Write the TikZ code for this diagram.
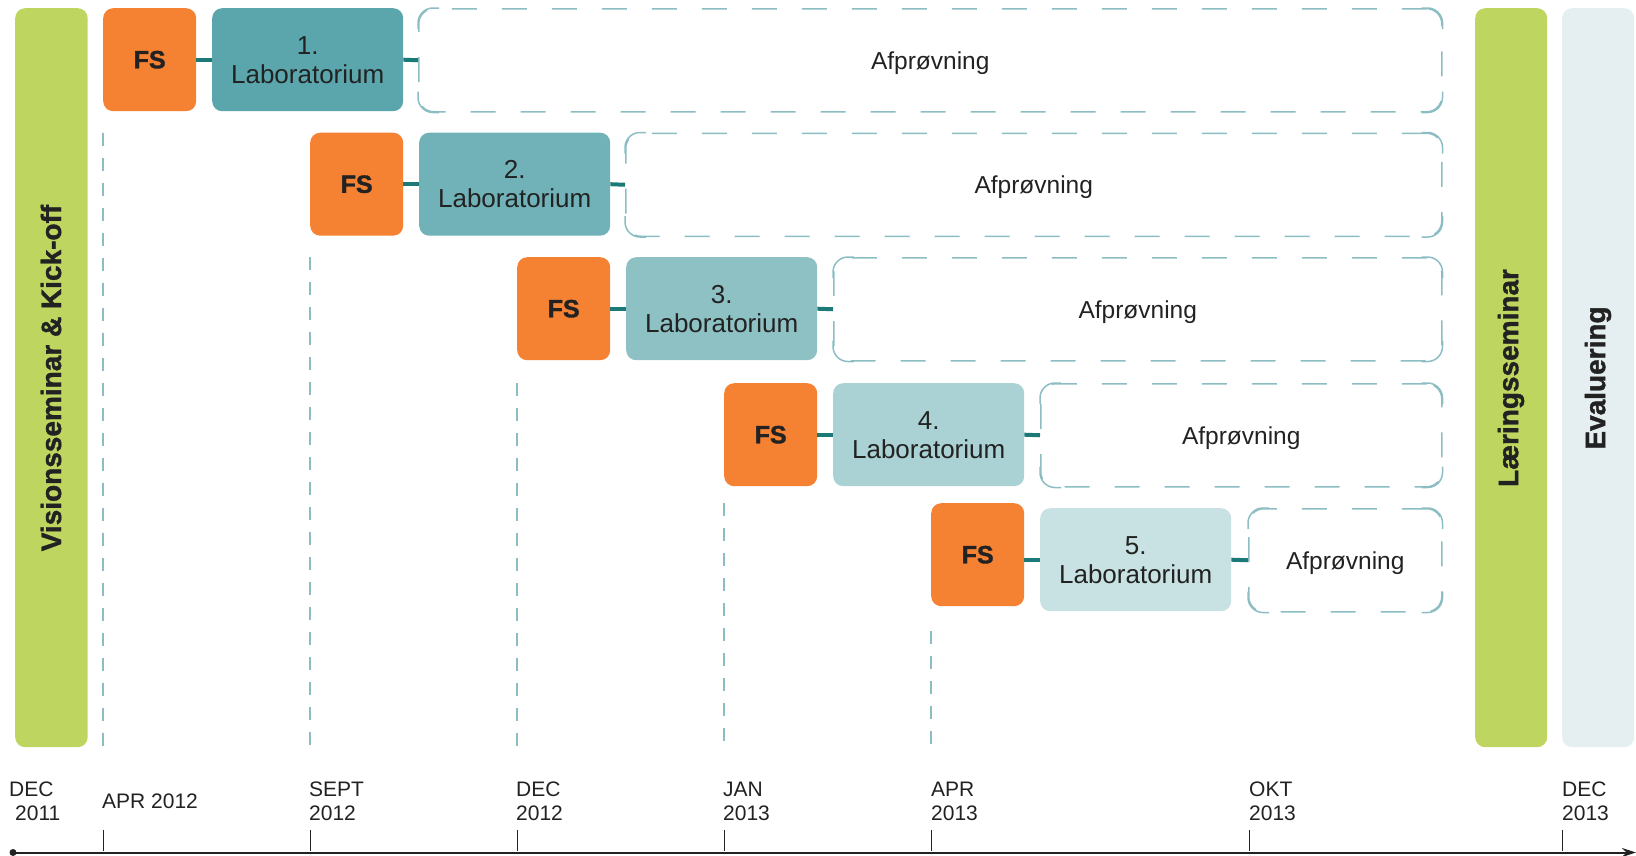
\documentclass[tikz,border=0pt]{standalone}
\usepackage{fontspec}
\setmainfont{Liberation Sans}
\newfontfamily\heavyfont[BoldFeatures={FakeBold=1.3}]{Liberation Sans}
\usetikzlibrary{arrows.meta}
\definecolor{fsorange}{HTML}{F58233}
\definecolor{vgreen}{HTML}{BED55F}
\definecolor{evalbg}{HTML}{E5EEF0}
\definecolor{labA}{HTML}{5AA6AC}
\definecolor{labB}{HTML}{70B2B7}
\definecolor{labC}{HTML}{8EC1C4}
\definecolor{labD}{HTML}{AAD1D3}
\definecolor{labE}{HTML}{C8E1E2}
\definecolor{conncol}{HTML}{1B7A78}
\definecolor{dashcol}{HTML}{8BBDC3}
\definecolor{txt}{HTML}{222222}
\tikzset{
  fsbox/.style={fill=fsorange, rounded corners=10pt, minimum width=93pt, minimum height=103pt,
    inner sep=0pt, anchor=north west, text=txt, font=\heavyfont\bfseries\fontsize{25}{30}\selectfont},
  labbox/.style={rounded corners=10pt, minimum width=191pt, minimum height=103pt,
    inner sep=0pt, anchor=north west, text=txt, align=center, font=\fontsize{26}{29}\selectfont},
  afpbox/.style={draw=dashcol, line width=1.5pt, dash pattern=on 25pt off 25pt, dash phase=0pt,
    rounded corners=15pt, minimum height=103pt, inner sep=0pt, anchor=north west, text=txt,
    text depth=0pt, font=\fontsize{24.5}{29}\selectfont},
  corner/.style={draw=dashcol, line width=1.5pt, solid},
  conn/.style={draw=conncol, line width=4pt},
  vdash/.style={draw=dashcol, line width=1.2pt, dash pattern=on 13pt off 12pt},
  vbar/.style={rounded corners=10pt, inner sep=0pt, anchor=north west},
  vtext/.style={rotate=90, text=txt, font=\heavyfont\bfseries\fontsize{28}{32}\selectfont},
  datetxt/.style={anchor=base west, inner sep=0pt, text=txt, font=\fontsize{21}{24}\selectfont},
  tick/.style={draw=txt, line width=1pt},
}
\begin{document}
\begin{tikzpicture}[x=1pt, y=-1pt]
\useasboundingbox (0,0) rectangle (1636,855);
% bars
\node[vbar, fill=vgreen, minimum width=72.5pt, minimum height=739pt] (visbar) at (15,8) {};
\node[vbar, fill=vgreen, minimum width=72pt, minimum height=739pt] (laerbar) at (1475,8) {};
\node[vbar, fill=evalbg, minimum width=72pt, minimum height=739pt] (evalbar) at (1562,8) {};
\node[vtext] (vistxt) at (51,378) {Visionsseminar \& Kick-off};
\node[vtext] (laertxt) at (1511,378) {Læringsseminar};
\node[vtext] (evaltxt) at (1598,378) {Evaluering};
% rows
\node[fsbox] (fs1) at (103,8) {FS};
\node[labbox, fill=labA] (lab1) at (212,8) {1.\\Laboratorium};
\node[afpbox, minimum width=1023pt] (afp1) at (418,8) {Afprøvning};
\node[fsbox] (fs2) at (310,132.5) {FS};
\node[labbox, fill=labB] (lab2) at (419,132.5) {2.\\Laboratorium};
\node[afpbox, minimum width=816pt] (afp2) at (625,132.5) {Afprøvning};
\node[fsbox] (fs3) at (517,257) {FS};
\node[labbox, fill=labC] (lab3) at (626,257) {3.\\Laboratorium};
\node[afpbox, minimum width=608pt] (afp3) at (833,257) {Afprøvning};
\node[fsbox] (fs4) at (724,383) {FS};
\node[labbox, fill=labD] (lab4) at (833,383) {4.\\Laboratorium};
\node[afpbox, minimum width=401pt] (afp4) at (1040,383) {Afprøvning};
\node[fsbox] (fs5) at (931,503) {FS};
\node[labbox, fill=labE] (lab5) at (1040,508) {5.\\Laboratorium};
\node[afpbox, minimum width=193pt] (afp5) at (1248,508) {Afprøvning};
% solid corners of the dashed boxes
\foreach \i in {1,...,5}{
  \draw[corner] ([yshift=-21pt]afp\i.north west) -- ++(0pt,6pt) arc[start angle=180, end angle=90, radius=15pt] -- ++(6pt,0pt);
  \draw[corner] ([xshift=-21pt]afp\i.north east) -- ++(6pt,0pt) arc[start angle=90, end angle=0, radius=15pt] -- ++(0pt,-6pt);
  \draw[corner] ([yshift=21pt]afp\i.south east) -- ++(0pt,-6pt) arc[start angle=0, end angle=-90, radius=15pt] -- ++(-6pt,0pt);
  \draw[corner] ([xshift=21pt]afp\i.south west) -- ++(-6pt,0pt) arc[start angle=270, end angle=180, radius=15pt] -- ++(0pt,6pt);
}
% connectors
\foreach \i in {1,...,4}{
  \draw[conn] (fs\i.east) -- (lab\i.west);
  \draw[conn] (lab\i.east) -- (afp\i.west);
}
\draw[conn] (fs5.east |- lab5.west) -- (lab5.west);
\draw[conn] (lab5.east) -- (afp5.west);
% dashed vertical guides
\coordinate (vbot) at (0,747);
\coordinate (v5top) at (0,631);
\draw[vdash] (fs1.west |- fs2.north) -- (fs1.west |- vbot);
\draw[vdash] (fs2.west |- fs3.north) -- (fs2.west |- vbot);
\draw[vdash] (fs3.west |- fs4.north) -- (fs3.west |- vbot);
\draw[vdash] (fs4.west |- fs5.north) -- (fs4.west |- vbot);
\draw[vdash] (fs5.west |- v5top) -- (fs5.west |- vbot);
% axis
\coordinate (axs) at (13,852.5);
\coordinate (axe) at (1636,852.5);
\fill[txt] (axs) circle (3.5pt);
\draw[draw=txt, line width=2pt, -{Stealth[length=14pt,width=9pt]}] (axs) -- (axe);
\coordinate (tkt) at (0,830);
\coordinate (tkb) at (0,851);
\coordinate (okt) at (1249,830);
\coordinate (dec13) at (1562,830);
\foreach \n in {fs1,fs2,fs3,fs4,fs5}{
  \draw[tick] (\n.west |- tkt) -- (\n.west |- tkb);
}
\draw[tick] (okt) -- (okt |- tkb);
\draw[tick] (dec13) -- (dec13 |- tkb);
% date labels
\node[datetxt] (d0a) at (9,796) {DEC};
\node[datetxt] (d0b) at (15,820) {2011};
\node[datetxt] (d1) at (102,808) {APR 2012};
\node[datetxt] (d2a) at (309,796) {SEPT};
\node[datetxt] (d2b) at (309,820) {2012};
\node[datetxt] (d3a) at (516,796) {DEC};
\node[datetxt] (d3b) at (516,820) {2012};
\node[datetxt] (d4a) at (723,796) {JAN};
\node[datetxt] (d4b) at (723,820) {2013};
\node[datetxt] (d5a) at (931,796) {APR};
\node[datetxt] (d5b) at (931,820) {2013};
\node[datetxt] (d6a) at (1249,796) {OKT};
\node[datetxt] (d6b) at (1249,820) {2013};
\node[datetxt] (d7a) at (1562,796) {DEC};
\node[datetxt] (d7b) at (1562,820) {2013};
\end{tikzpicture}
\end{document}
